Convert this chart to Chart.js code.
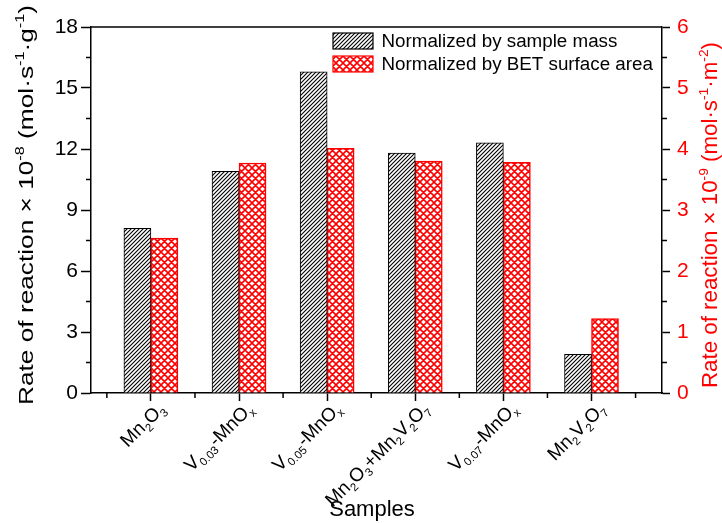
<!DOCTYPE html>
<html><head><meta charset="utf-8">
<script src="https://cdn.jsdelivr.net/npm/chart.js@4"></script>
<style>html,body{margin:0;padding:0;background:#fff}</style>
</head><body>
<canvas id="c" width="722" height="523"></canvas>
<script>
// ---- data ----
const categories = ["Mn_2O_3", "V_{0.03}-MnO_x", "V_{0.05}-MnO_x", "Mn_2O_3+Mn_2V_2O_7", "V_{0.07}-MnO_x", "Mn_2V_2O_7"];
const massRates = [8.1, 10.9, 15.8, 11.8, 12.3, 1.9];
const betRates = [2.54, 3.77, 4.01, 3.80, 3.78, 1.22];
const leftTicks = [0, 3, 6, 9, 12, 15, 18];
const rightTicks = [0, 1, 2, 3, 4, 5, 6];
const seriesNames = ["Normalized by sample mass", "Normalized by BET surface area"];
const leftTitle = "Rate of reaction \u00d7 10^{-8} (mol\u00b7s^{-1}\u00b7g^{-1})";
const rightTitle = "Rate of reaction \u00d7 10^{-9} (mol\u00b7s^{-1}\u00b7m^{-2})";
const xTitle = "Samples";

const FAMILY = '"Liberation Sans", Arial, Helvetica, sans-serif';
Chart.defaults.font.family = FAMILY;

const cv = document.getElementById('c');
const ctx0 = cv.getContext('2d');

function makeHatch() {
  const c = document.createElement('canvas'); c.width = c.height = 4;
  const g = c.getContext('2d');
  g.fillStyle = '#fff'; g.fillRect(0, 0, 4, 4);
  g.strokeStyle = '#000'; g.lineWidth = 1.1;
  g.beginPath();
  g.moveTo(-1, 5); g.lineTo(5, -1);
  g.moveTo(-1, 1); g.lineTo(1, -1);
  g.moveTo(3, 5); g.lineTo(5, 3);
  g.stroke();
  return ctx0.createPattern(c, 'repeat');
}
function makeCross() {
  const n = 7;
  const c = document.createElement('canvas'); c.width = c.height = n;
  const g = c.getContext('2d');
  g.fillStyle = '#fff'; g.fillRect(0, 0, n, n);
  g.strokeStyle = '#ff0000'; g.lineWidth = 1.6;
  g.beginPath();
  for (const o of [-n, 0, n]) {
    g.moveTo(o, 0); g.lineTo(o + n, n);
    g.moveTo(o, n); g.lineTo(o + n, 0);
  }
  g.stroke();
  return ctx0.createPattern(c, 'repeat');
}
const hatchBlack = makeHatch();
const hatchRed = makeCross();

function segs(str) {
  const out = []; let i = 0, buf = '';
  while (i < str.length) {
    const ch = str[i];
    if (ch === '_' || ch === '^') {
      if (buf) { out.push({ t: buf, k: 'n' }); buf = ''; }
      let t;
      if (str[i + 1] === '{') { const j = str.indexOf('}', i + 2); t = str.slice(i + 2, j); i = j + 1; }
      else { t = str[i + 1]; i += 2; }
      out.push({ t, k: ch === '_' ? 'sub' : 'sup' });
    } else { buf += ch; i++; }
  }
  if (buf) out.push({ t: buf, k: 'n' });
  return out;
}
function drawRich(ctx, str, o) {
  const s = segs(str);
  const small = o.size * (o.ratio || 0.62);
  let w = 0;
  s.forEach(g => { ctx.font = (g.k === 'n' ? o.size : small) + 'px ' + FAMILY; g.w = ctx.measureText(g.t).width; w += g.w; });
  ctx.save();
  ctx.translate(o.x, o.y);
  ctx.rotate(o.angle || 0);
  const stretch = o.length ? o.length / w : 1;
  ctx.scale(stretch, 1);
  let cx = o.align === 'right' ? -w : (o.align === 'center' ? -w / 2 : 0);
  ctx.fillStyle = o.color; ctx.textAlign = 'left'; ctx.textBaseline = 'alphabetic';
  const dy = o.dy || 0;
  s.forEach(g => {
    ctx.font = (g.k === 'n' ? o.size : small) + 'px ' + FAMILY;
    const off = g.k === 'sub' ? o.size * 0.24 : (g.k === 'sup' ? -o.size * 0.42 : 0);
    ctx.fillText(g.t, cx, dy + off);
    cx += g.w;
  });
  ctx.restore();
}

const decor = {
  id: 'decor',
  afterDraw(chart) {
    const ctx = chart.ctx;
    const a = chart.chartArea;
    const xs = chart.scales.x, ys = chart.scales.y, y1 = chart.scales.y1;
    ctx.save();
    ctx.strokeStyle = '#000'; ctx.lineWidth = 1.5;
    ctx.beginPath(); ctx.moveTo(a.left, a.top); ctx.lineTo(a.right, a.top); ctx.stroke();
    ctx.beginPath();
    for (let i = 0; i < leftTicks.length - 1; i++) {
      const v = (leftTicks[i] + leftTicks[i + 1]) / 2, p = ys.getPixelForValue(v);
      ctx.moveTo(a.left, p); ctx.lineTo(a.left - 5, p);
    }
    for (let i = 0; i < rightTicks.length - 1; i++) {
      const v = (rightTicks[i] + rightTicks[i + 1]) / 2, p = y1.getPixelForValue(v);
      ctx.moveTo(a.right, p); ctx.lineTo(a.right + 5, p);
    }
    for (let i = 0; i <= categories.length; i++) {
      const p = xs.getPixelForValue(i + 0.5);
      ctx.moveTo(p, a.bottom); ctx.lineTo(p, a.bottom + 5);
    }
    ctx.stroke();
    ctx.restore();

    categories.forEach((c, i) => {
      const p = xs.getPixelForValue(i + 1);
      drawRich(ctx, c, { x: p + 10, y: a.bottom + 12, angle: -Math.PI / 4, size: 19, ratio: 0.6, color: '#000', align: 'right', dy: 7 });
    });
    drawRich(ctx, xTitle, { x: 372, y: 516, size: 22, color: '#000', align: 'center' });
    drawRich(ctx, leftTitle, { x: 33, y: 405, angle: -Math.PI / 2, size: 21, color: '#000', align: 'left', length: 400 });
    drawRich(ctx, rightTitle, { x: 717, y: 388, angle: -Math.PI / 2, size: 22, color: '#ff0000', align: 'left', length: 346 });

    const sw = [hatchBlack, hatchRed], sc = ['#000', '#ff0000'], rows = [33, 56];
    ctx.save();
    rows.forEach((ty, i) => {
      ctx.fillStyle = sw[i]; ctx.fillRect(333, ty, 40, 16);
      ctx.strokeStyle = sc[i]; ctx.lineWidth = 1.2; ctx.strokeRect(333, ty, 40, 16);
      ctx.fillStyle = '#000'; ctx.font = '18.8px ' + FAMILY; ctx.textAlign = 'left'; ctx.textBaseline = 'middle';
      ctx.fillText(seriesNames[i], 381.5, ty + 8.5);
    });
    ctx.restore();
  }
};

new Chart(cv, {
  type: 'bar',
  data: {
    datasets: [
      { label: seriesNames[0], data: massRates.map((v, i) => ({ x: i + 1, y: v })), backgroundColor: hatchBlack, borderColor: '#000', borderWidth: 1, yAxisID: 'y', barThickness: 27 },
      { label: seriesNames[1], data: betRates.map((v, i) => ({ x: i + 1, y: v })), backgroundColor: hatchRed, borderColor: '#ff0000', borderWidth: 1.5, yAxisID: 'y1', barThickness: 27 }
    ]
  },
  options: {
    responsive: false, animation: false, devicePixelRatio: 1,
    layout: { padding: { top: 27, left: 0, right: 0, bottom: 0 } },
    plugins: { legend: { display: false }, tooltip: { enabled: false } },
    scales: {
      x: {
        type: 'linear', min: 0.32, max: 6.8, offset: false,
        afterBuildTicks: s => { s.ticks = categories.map((c, i) => ({ value: i + 1 })); },
        ticks: { display: false },
        grid: { offset: false, drawOnChartArea: false, tickLength: 8, tickColor: '#000', tickWidth: 1.5 },
        border: { color: '#000', width: 1.5 },
        afterFit: s => { s.height = 130; }
      },
      y: {
        position: 'left', min: 0, max: 18,
        afterBuildTicks: s => { s.ticks = leftTicks.map(v => ({ value: v })); },
        ticks: { color: '#000', font: { size: 21 }, padding: 3 },
        grid: { drawOnChartArea: false, tickLength: 10, tickColor: '#000', tickWidth: 1.5 },
        border: { color: '#000', width: 1.5 },
        afterFit: s => { s.width = 91; }
      },
      y1: {
        position: 'right', min: 0, max: 6,
        afterBuildTicks: s => { s.ticks = rightTicks.map(v => ({ value: v })); },
        ticks: { color: '#ff0000', font: { size: 21 }, padding: 7 },
        grid: { drawOnChartArea: false, tickLength: 8, tickColor: '#000', tickWidth: 1.5 },
        border: { color: '#000', width: 1.5 },
        afterFit: s => { s.width = 60; }
      }
    }
  },
  plugins: [decor]
});
</script>
</body></html>
